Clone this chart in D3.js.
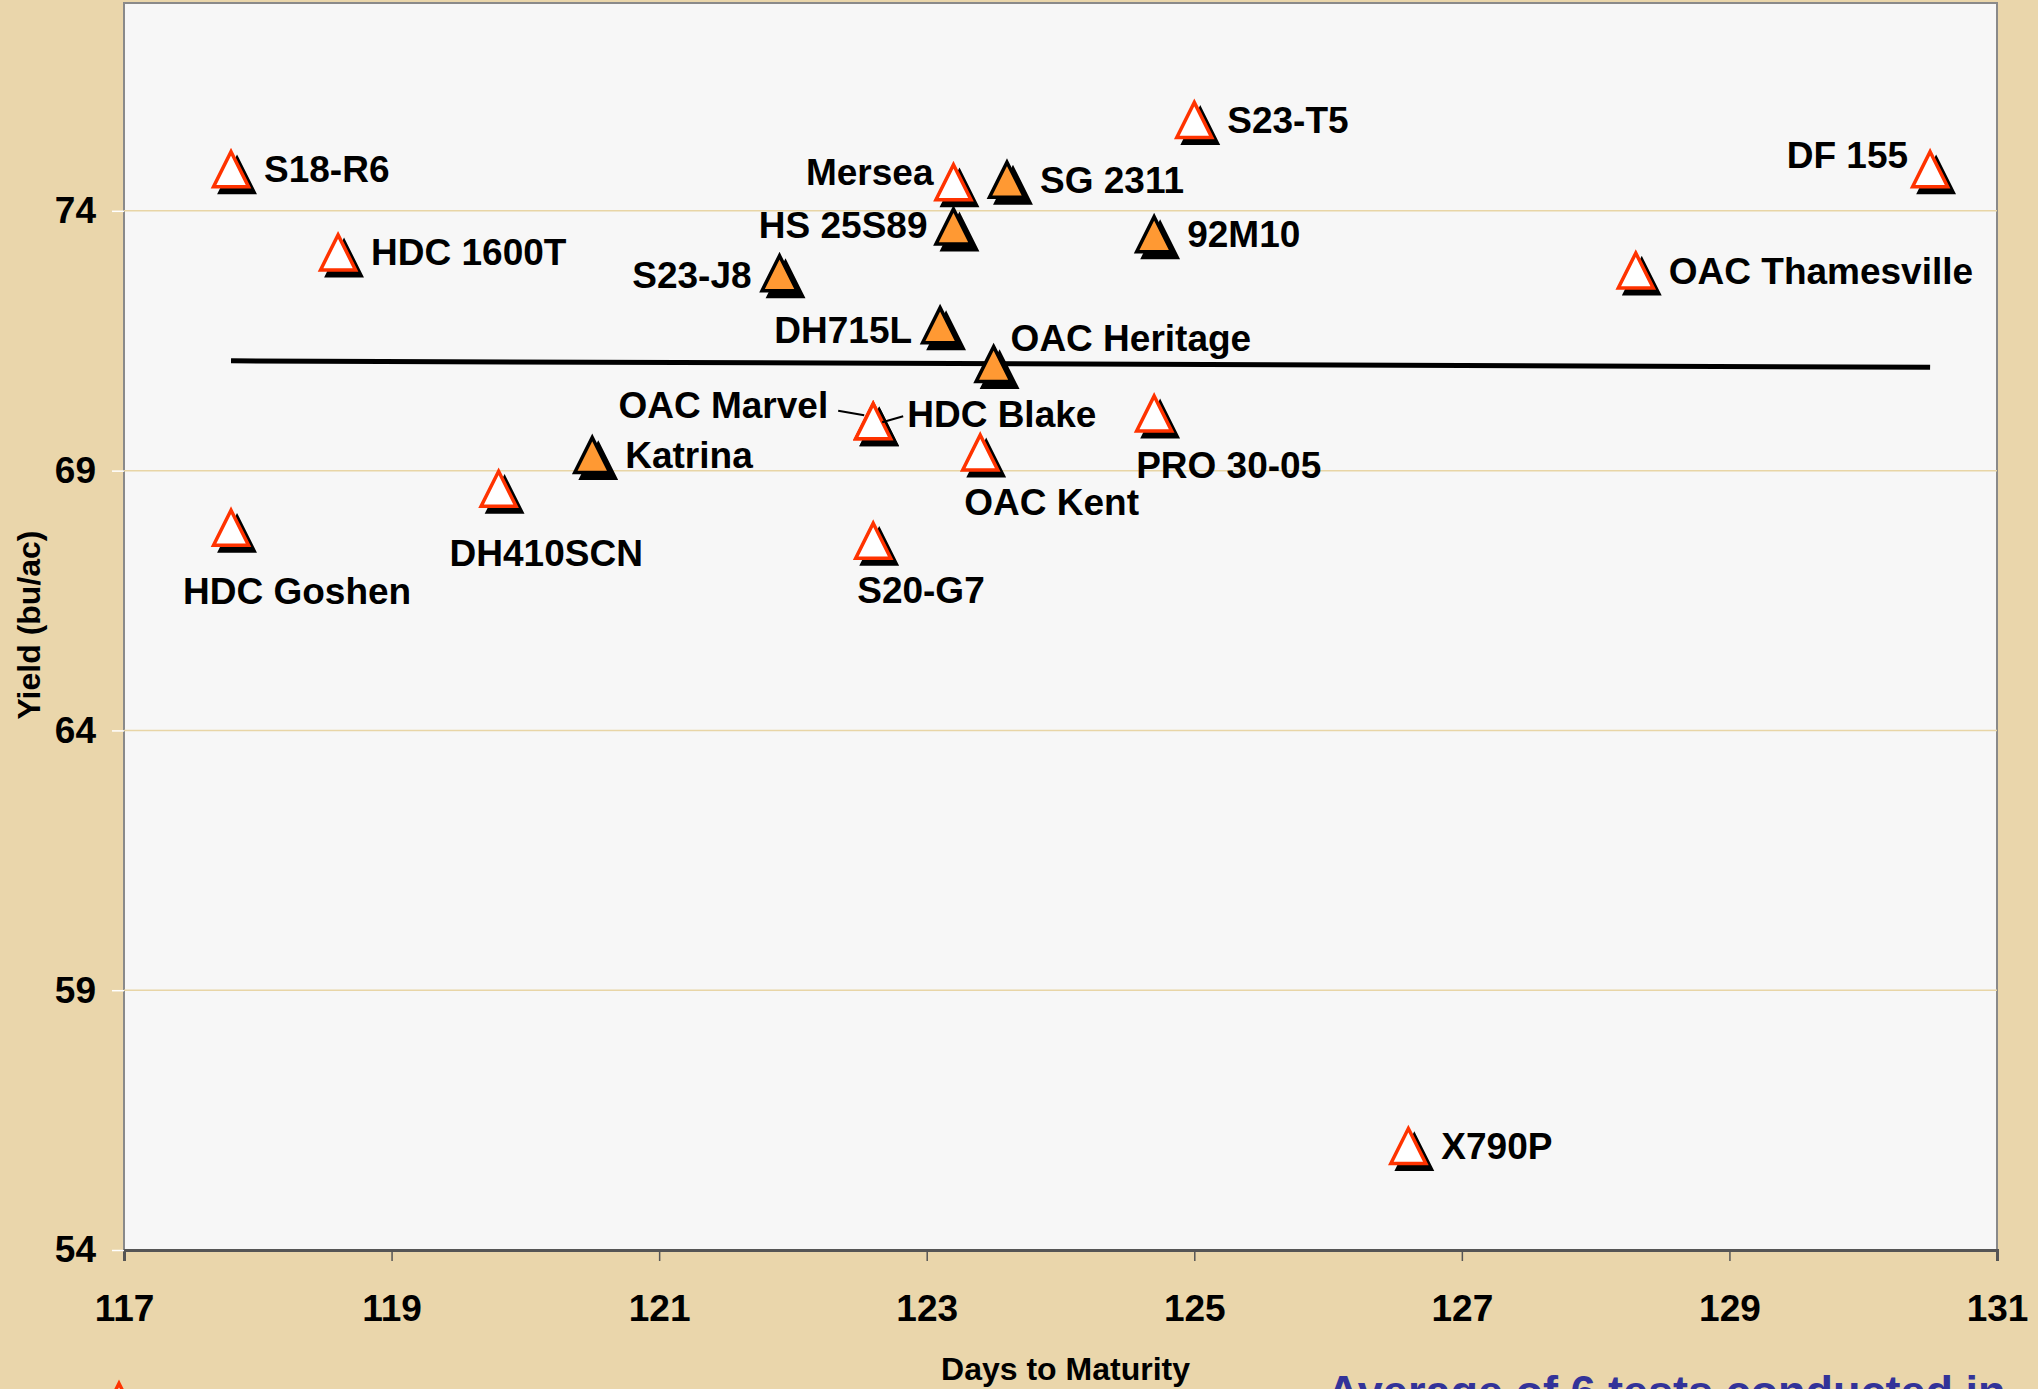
<!DOCTYPE html>
<html>
<head>
<meta charset="utf-8">
<script src="https://cdn.jsdelivr.net/npm/d3@7"></script>
<style>
  body { margin: 0; overflow: hidden; background: #ead6ab; }
  text { font-family: Arial, "Liberation Sans", sans-serif; font-weight: bold; }
</style>
</head>
<body>
<div id="chart"></div>
<script>
// data
let varieties = ['S18-R6', 'HDC 1600T', 'S23-J8', 'Mersea', 'SG 2311', 'HS 25S89', '92M10',
    'S23-T5', 'DF 155', 'OAC Thamesville', 'DH715L', 'OAC Heritage', 'OAC Marvel', 'HDC Blake',
    'PRO 30-05', 'Katrina', 'OAC Kent', 'DH410SCN', 'HDC Goshen', 'S20-G7', 'X790P'];
let daysToMaturity = [117.8, 118.6, 121.9, 123.2, 123.6, 123.2, 124.7,
    125.0, 130.5, 128.3, 123.1, 123.5, 122.6, 122.6,
    124.7, 120.5, 123.4, 119.8, 117.8, 122.6, 126.6];
let yieldBuAc = [74.8, 73.2, 72.8, 74.55, 74.6, 73.7, 73.55,
    75.75, 74.8, 72.85, 71.8, 71.05, 69.95, 69.95,
    70.1, 69.3, 69.35, 68.65, 67.9, 67.65, 56.0];
// 1 = filled (orange) series, 0 = open series
let group = [0, 0, 1, 0, 1, 1, 1,
    0, 0, 0, 1, 1, 0, 0,
    0, 1, 0, 0, 0, 0, 0];
let xTicks = [117, 119, 121, 123, 125, 127, 129, 131];
let yTicks = [54, 59, 64, 69, 74];

// label placement: [anchor, dx, dy] from marker centre
let labelPlacement = {
    'S18-R6': ['start', 33, 13], 'HDC 1600T': ['start', 33, 13], 'S23-J8': ['end', -28, 15],
    'Mersea': ['end', -20, 3], 'SG 2311': ['start', 33, 13], 'HS 25S89': ['end', -26, 12],
    '92M10': ['start', 33, 13], 'S23-T5': ['start', 33, 13], 'DF 155': ['end', -22, -1],
    'OAC Thamesville': ['start', 33, 13], 'DH715L': ['end', -28, 18], 'OAC Heritage': ['start', 17, -13],
    'OAC Marvel': ['end', -45, -3.5], 'HDC Blake': ['start', 34, 5.5], 'PRO 30-05': ['start', -18, 65],
    'Katrina': ['start', 33, 13], 'OAC Kent': ['start', -16, 63], 'DH410SCN': ['start', -49, 77],
    'HDC Goshen': ['start', -48, 76], 'S20-G7': ['start', -16, 62], 'X790P': ['start', 33, 13]
};
let leaders = {
    'OAC Marvel': [-35, -10.5, -9, -6],
    'HDC Blake': [9, 1, 30, -5]
};

let svgWidth = 2038;
let svgHeight = 1389;
let margin = { top: 3, right: 41, bottom: 139, left: 124 };
let width = svgWidth - margin.left - margin.right;
let height = svgHeight - margin.top - margin.bottom;

let points = varieties.map((name, i) => ({
    name: name, x: daysToMaturity[i], y: yieldBuAc[i], g: group[i]
}));

let svg = d3.select('#chart').append('svg')
    .attr('width', svgWidth)
    .attr('height', svgHeight);

svg.append('rect').attr('width', svgWidth).attr('height', svgHeight).attr('fill', '#ead6ab');

let chartGroup = svg.append('g')
    .attr('transform', `translate(${margin.left}, ${margin.top})`);

let xScale = d3.scaleLinear().domain([117, 131]).range([0, width]);
let yScale = d3.scaleLinear().domain([54, 78]).range([height, 0]);

// plot area
chartGroup.append('rect')
    .attr('width', width).attr('height', height)
    .attr('fill', '#f7f7f7')
    .attr('stroke', '#8a8a8a').attr('stroke-width', 2);

// gridlines
chartGroup.selectAll('.grid').data(yTicks.filter(d => d > 54)).enter()
    .append('line')
    .attr('x1', 0).attr('x2', width)
    .attr('y1', d => yScale(d)).attr('y2', d => yScale(d))
    .attr('stroke', '#e8d5a6').attr('stroke-width', 1.5);

// x axis
let bottomAxis = d3.axisBottom(xScale).tickValues(xTicks).tickSize(11).tickPadding(34).tickFormat(d3.format('d'));
let xAxis = chartGroup.append('g')
    .attr('transform', `translate(0, ${height})`)
    .call(bottomAxis);
xAxis.select('.domain').attr('stroke', '#555').attr('stroke-width', 3);
xAxis.selectAll('.tick line').attr('stroke', '#555').attr('stroke-width', 1.5);
xAxis.selectAll('.tick text').attr('font-size', 37).attr('fill', '#000')
    .attr('font-family', 'Arial, "Liberation Sans", sans-serif').attr('font-weight', 'bold');

// y axis
let leftAxis = d3.axisLeft(yScale).tickValues(yTicks).tickSize(12).tickPadding(16);
let yAxis = chartGroup.append('g').call(leftAxis);
yAxis.select('.domain').remove();
yAxis.selectAll('.tick line').attr('stroke', '#ffffff').attr('stroke-width', 1.5);
yAxis.selectAll('.tick text').attr('font-size', 37).attr('fill', '#000')
    .attr('font-family', 'Arial, "Liberation Sans", sans-serif').attr('font-weight', 'bold');

// axis titles
svg.append('text')
    .attr('x', margin.left + width / 2 + 5).attr('y', 1380)
    .attr('text-anchor', 'middle').attr('font-size', 32)
    .text('Days to Maturity');
svg.append('text')
    .attr('transform', `translate(40, ${margin.top + 622}) rotate(-90)`)
    .attr('text-anchor', 'middle').attr('font-size', 32)
    .text('Yield (bu/ac)');

// linear trend line (least squares)
let mx = d3.mean(points, d => d.x);
let my = d3.mean(points, d => d.y);
let slope = d3.sum(points, d => (d.x - mx) * (d.y - my)) / d3.sum(points, d => (d.x - mx) ** 2);
let x0 = d3.min(points, d => d.x), x1 = d3.max(points, d => d.x);
let trend = [[x0, my + slope * (x0 - mx)], [x1, my + slope * (x1 - mx)]];
chartGroup.append('path')
    .datum(trend)
    .attr('d', d3.line().x(d => xScale(d[0])).y(d => yScale(d[1])))
    .attr('stroke', '#000').attr('stroke-width', 5).attr('fill', 'none');

// markers
let tri = 'M0,-17.5L17.5,17.5L-17.5,17.5Z';
let marks = chartGroup.selectAll('.pt').data(points).enter()
    .append('g')
    .attr('transform', d => `translate(${xScale(d.x)}, ${yScale(d.y)})`);
marks.append('path').attr('d', tri)
    .attr('transform', 'translate(6, 6)')
    .attr('fill', '#000').attr('stroke', '#000').attr('stroke-width', 3);
marks.append('path').attr('d', tri)
    .attr('fill', d => d.g ? '#ff9933' : '#ffffff')
    .attr('stroke', d => d.g ? '#000' : '#ff3300')
    .attr('stroke-width', 3.5).attr('stroke-linejoin', 'miter');

// leader lines
marks.filter(d => leaders[d.name]).append('line')
    .attr('x1', d => leaders[d.name][0]).attr('y1', d => leaders[d.name][1])
    .attr('x2', d => leaders[d.name][2]).attr('y2', d => leaders[d.name][3])
    .attr('stroke', '#000').attr('stroke-width', 2);

// labels
marks.append('text')
    .attr('x', d => labelPlacement[d.name][1])
    .attr('y', d => labelPlacement[d.name][2])
    .attr('text-anchor', d => labelPlacement[d.name][0])
    .attr('font-size', 37).attr('fill', '#000')
    .text(d => d.name);

// legend marker peeking in at bottom-left
let leg = svg.append('g').attr('transform', 'translate(119, 1401)');
leg.append('path').attr('d', tri).attr('transform', 'translate(6, 6)').attr('fill', '#000');
leg.append('path').attr('d', tri).attr('fill', '#fff').attr('stroke', '#ff3300').attr('stroke-width', 3.5);

// footnote, cut off at the bottom edge
svg.append('text')
    .attr('x', 1327).attr('y', 1407)
    .attr('font-size', 45).attr('fill', '#333399')
    .text('Average of 6 tests conducted in');
</script>
</body>
</html>
